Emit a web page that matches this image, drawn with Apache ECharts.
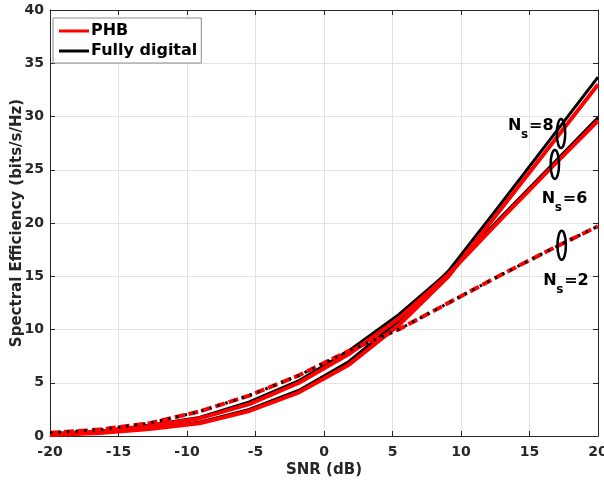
<!DOCTYPE html>
<html><head><meta charset="utf-8">
<script src="https://cdn.jsdelivr.net/npm/echarts@6/dist/echarts.min.js"></script>
<style>html,body{margin:0;padding:0;background:#fff}#c{width:604px;height:489px}</style>
</head><body><div id="c"></div>
<script>
var snr = [-20, -16.36, -12.73, -9.09, -5.45, -1.82, 1.82, 5.45, 9.09, 12.73, 16.36, 20];
var ns2_phb = [0.3, 0.6, 1.2, 2.3, 3.8, 5.7, 8.0, 10.0, 12.5, 15.0, 17.4, 19.7];
var ns2_fd  = [0.3, 0.6, 1.2, 2.3, 3.8, 5.7, 8.0, 10.0, 12.5, 15.0, 17.4, 19.7];
var ns6_fd  = [0.2, 0.45, 1.0, 1.75, 3.2, 5.2, 8.0, 11.4, 15.4, 20.3, 25.1, 29.9];
var ns6_phb = [0.18, 0.42, 0.95, 1.65, 3.0, 5.0, 7.7, 11.0, 15.2, 20.1, 24.9, 29.6];
var ns8_fd  = [0.12, 0.3, 0.7, 1.3, 2.5, 4.3, 7.0, 10.8, 15.5, 21.5, 27.6, 33.7];
var ns8_phb = [0.1, 0.28, 0.65, 1.2, 2.35, 4.1, 6.7, 10.4, 15.0, 21.0, 27.0, 33.0];
var xTicks = [-20, -15, -10, -5, 0, 5, 10, 15, 20];
var yTicks = [0, 5, 10, 15, 20, 25, 30, 35, 40];
var annotations = [
  {label: '8', ex: 17.3, ey: 28.4, tx: 13.43, ty: 29.1},
  {label: '6', ex: 16.85, ey: 25.5, tx: 15.9, ty: 22.3},
  {label: '2', ex: 17.35, ey: 17.9, tx: 16.0, ty: 14.55}
];

function pairs(ys){ return snr.map(function(x,i){ return [x, ys[i]]; }); }
var FONT = '"DejaVu Sans", sans-serif';
var RED = '#ff0000', BLK = '#000000';
function mk(name, ys, color, width, type, z){
  return {name: name, type: 'line', data: pairs(ys), showSymbol: false, symbol: 'none',
    lineStyle: {color: color, width: width, type: type, cap: 'butt'}, itemStyle: {color: color},
    z: z, animation: false};
}
var chart = echarts.init(document.getElementById('c'), null, {renderer: 'canvas'});
function axisCommon(){
  return {
    axisLine: {show: true, onZero: false, lineStyle: {color: '#262626', width: 1}},
    axisTick: {show: true, inside: true, length: 5, lineStyle: {color: '#262626'}},
    splitLine: {show: false}
  };
}
chart.setOption({
  animation: false,
  backgroundColor: '#fff',
  grid: {left: 50, right: 6, top: 10, bottom: 53, containLabel: false, outerBoundsMode: 'none'},
  legend: {
    data: [{name: 'PHB', icon: 'rect'}, {name: 'Fully digital', icon: 'rect'}],
    orient: 'vertical', left: 53, top: 18, itemWidth: 30, itemHeight: 3, itemGap: 4,
    backgroundColor: '#fff', borderColor: '#8c8c8c', borderWidth: 1, borderRadius: 0,
    padding: [5, 4, 4, 6],
    textStyle: {fontFamily: FONT, fontWeight: 'bold', fontSize: 16, color: '#000', padding: [0,0,0,-3]}
  },
  xAxis: [
    Object.assign({type: 'value', min: -20, max: 20, interval: 5, position: 'bottom',
      name: 'SNR (dB)', nameLocation: 'middle', nameGap: 27, nameMoveOverlap: false,
      nameTextStyle: {fontFamily: FONT, fontWeight: 'bold', fontSize: 15, color: '#262626'},
      axisLabel: {fontFamily: FONT, fontWeight: 'bold', fontSize: 14, color: '#262626', margin: 9,
        formatter: function(v){ return xTicks.indexOf(v) >= 0 ? String(v) : ''; }}}, axisCommon(),
      {splitLine: {show: true, lineStyle: {color: '#e3e3e3', width: 1}}}),
    Object.assign({type: 'value', min: -20, max: 20, interval: 5, position: 'top',
      axisLabel: {show: false}}, axisCommon())
  ],
  yAxis: [
    Object.assign({type: 'value', min: 0, max: 40, interval: 5, position: 'left',
      name: 'Spectral Efficiency (bits/s/Hz)', nameLocation: 'middle', nameGap: 25, nameMoveOverlap: false,
      nameTextStyle: {fontFamily: FONT, fontWeight: 'bold', fontSize: 15, color: '#262626'},
      axisLabel: {fontFamily: FONT, fontWeight: 'bold', fontSize: 14, color: '#262626', margin: 6,
        formatter: function(v){ return yTicks.indexOf(v) >= 0 ? String(v) : ''; }}}, axisCommon(),
      {splitLine: {show: true, lineStyle: {color: '#e3e3e3', width: 1}}}),
    Object.assign({type: 'value', min: 0, max: 40, interval: 5, position: 'right',
      axisLabel: {show: false}}, axisCommon())
  ],
  series: [
    mk('Fully digital', ns6_fd, BLK, 3, 'solid', 2),
    mk('Fully digital', ns8_fd, BLK, 3, 'solid', 2),
    mk('PHB', ns6_phb, RED, 4, 'solid', 3),
    mk('PHB', ns8_phb, RED, 4, 'solid', 3),
    mk('PHB', ns2_phb, RED, 4, [10, 4], 4),
    mk('Fully digital', ns2_fd, BLK, 3, [2.5, 6], 5)
  ]
});

function placeAnnotations(){
  var g = [];
  annotations.forEach(function(a){
    var e = chart.convertToPixel({xAxisIndex: 0, yAxisIndex: 0}, [a.ex, a.ey]);
    var t = chart.convertToPixel({xAxisIndex: 0, yAxisIndex: 0}, [a.tx, a.ty]);
    g.push({type: 'ellipse', shape: {cx: e[0], cy: e[1], rx: 4.2, ry: 14.5},
      style: {fill: 'none', stroke: '#000', lineWidth: 2.5}, z: 100});
    g.push({type: 'text', x: t[0], y: t[1], style: {text: 'N', font: 'bold 16px ' + FONT, fill: '#000',
      textAlign: 'left', textVerticalAlign: 'middle'}, z: 100});
    g.push({type: 'text', x: t[0] + 13, y: t[1] + 9, style: {text: 's', font: 'bold 12px ' + FONT, fill: '#000',
      textAlign: 'left', textVerticalAlign: 'middle'}, z: 100});
    g.push({type: 'text', x: t[0] + 21, y: t[1], style: {text: '=' + a.label, font: 'bold 16px ' + FONT, fill: '#000',
      textAlign: 'left', textVerticalAlign: 'middle'}, z: 100});
  });
  chart.setOption({graphic: g});
}
placeAnnotations();
</script></body></html>
